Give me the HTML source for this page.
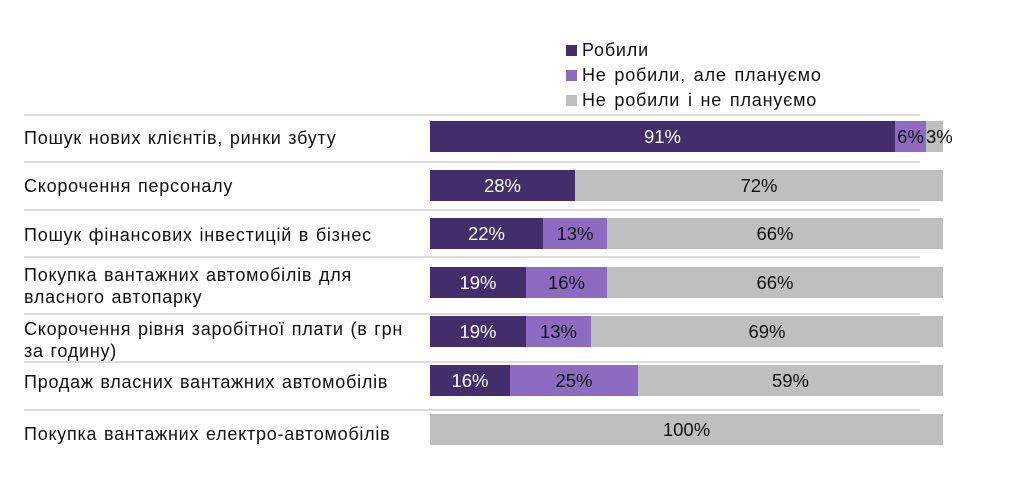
<!DOCTYPE html>
<html><head><meta charset="utf-8"><style>
body{margin:0;width:1024px;height:499px;background:#fff;position:relative;overflow:hidden;font-family:"Liberation Sans",sans-serif;}
.l{position:absolute;left:24px;font-size:18px;color:#111;line-height:22px;letter-spacing:0.75px;word-spacing:1px;white-space:nowrap}
.s{position:absolute;height:31px;font-size:18.5px;line-height:31px;text-align:center;overflow:visible;white-space:nowrap}
.d{background:#432d6a;color:#fff}.m{background:#8c6bc0;color:#111}.g{background:#bfbfbf;color:#111}
.h{position:absolute;left:24px;width:896px;height:2px;background:#dcdcdc}
.lg{position:absolute;left:566px;font-size:18px;color:#111;line-height:20px;letter-spacing:0.8px;word-spacing:2px;white-space:nowrap}
.lg i{display:inline-block;width:11px;height:11px;margin-right:5px;vertical-align:0px}
</style></head><body>
<div class="lg" style="top:40px"><i style="background:#432d6a"></i>Робили</div>
<div class="lg" style="top:65px"><i style="background:#8c6bc0"></i>Не робили, але плануємо</div>
<div class="lg" style="top:90px"><i style="background:#bfbfbf"></i>Не робили і не плануємо</div>

<div class="h" style="top:114px"></div><div class="h" style="top:161px"></div><div class="h" style="top:209px"></div><div class="h" style="top:256px"></div><div class="h" style="top:313px"></div><div class="h" style="top:361px"></div><div class="h" style="top:409px"></div>

<div class="l" style="top:127px">Пошук нових клієнтів, ринки збуту</div>
<div class="l" style="top:175px">Скорочення персоналу</div>
<div class="l" style="top:224px">Пошук фінансових інвестицій в бізнес</div>
<div class="l" style="top:264px">Покупка вантажних автомобілів для<br>власного автопарку</div>
<div class="l" style="top:318px">Скорочення рівня заробітної плати (в грн<br>за годину)</div>
<div class="l" style="top:371px">Продаж власних вантажних автомобілів</div>
<div class="l" style="top:423px">Покупка вантажних електро-автомобілів</div>

<div class="s d" style="top:121px;left:430px;width:465px">91%</div>
<div class="s m" style="top:121px;left:895px;width:31px">6%</div>
<div class="s g" style="top:121px;left:926px;width:17px">3%</div>

<div class="s d" style="top:170px;left:430px;width:145px">28%</div>
<div class="s g" style="top:170px;left:575px;width:368px">72%</div>

<div class="s d" style="top:218px;left:430px;width:113px">22%</div>
<div class="s m" style="top:218px;left:543px;width:64px">13%</div>
<div class="s g" style="top:218px;left:607px;width:336px">66%</div>

<div class="s d" style="top:267px;left:430px;width:96px">19%</div>
<div class="s m" style="top:267px;left:526px;width:81px">16%</div>
<div class="s g" style="top:267px;left:607px;width:336px">66%</div>

<div class="s d" style="top:316px;left:430px;width:96px">19%</div>
<div class="s m" style="top:316px;left:526px;width:65px">13%</div>
<div class="s g" style="top:316px;left:591px;width:352px">69%</div>

<div class="s d" style="top:365px;left:430px;width:80px">16%</div>
<div class="s m" style="top:365px;left:510px;width:128px">25%</div>
<div class="s g" style="top:365px;left:638px;width:305px">59%</div>

<div class="s g" style="top:414px;left:430px;width:513px">100%</div>
</body></html>
